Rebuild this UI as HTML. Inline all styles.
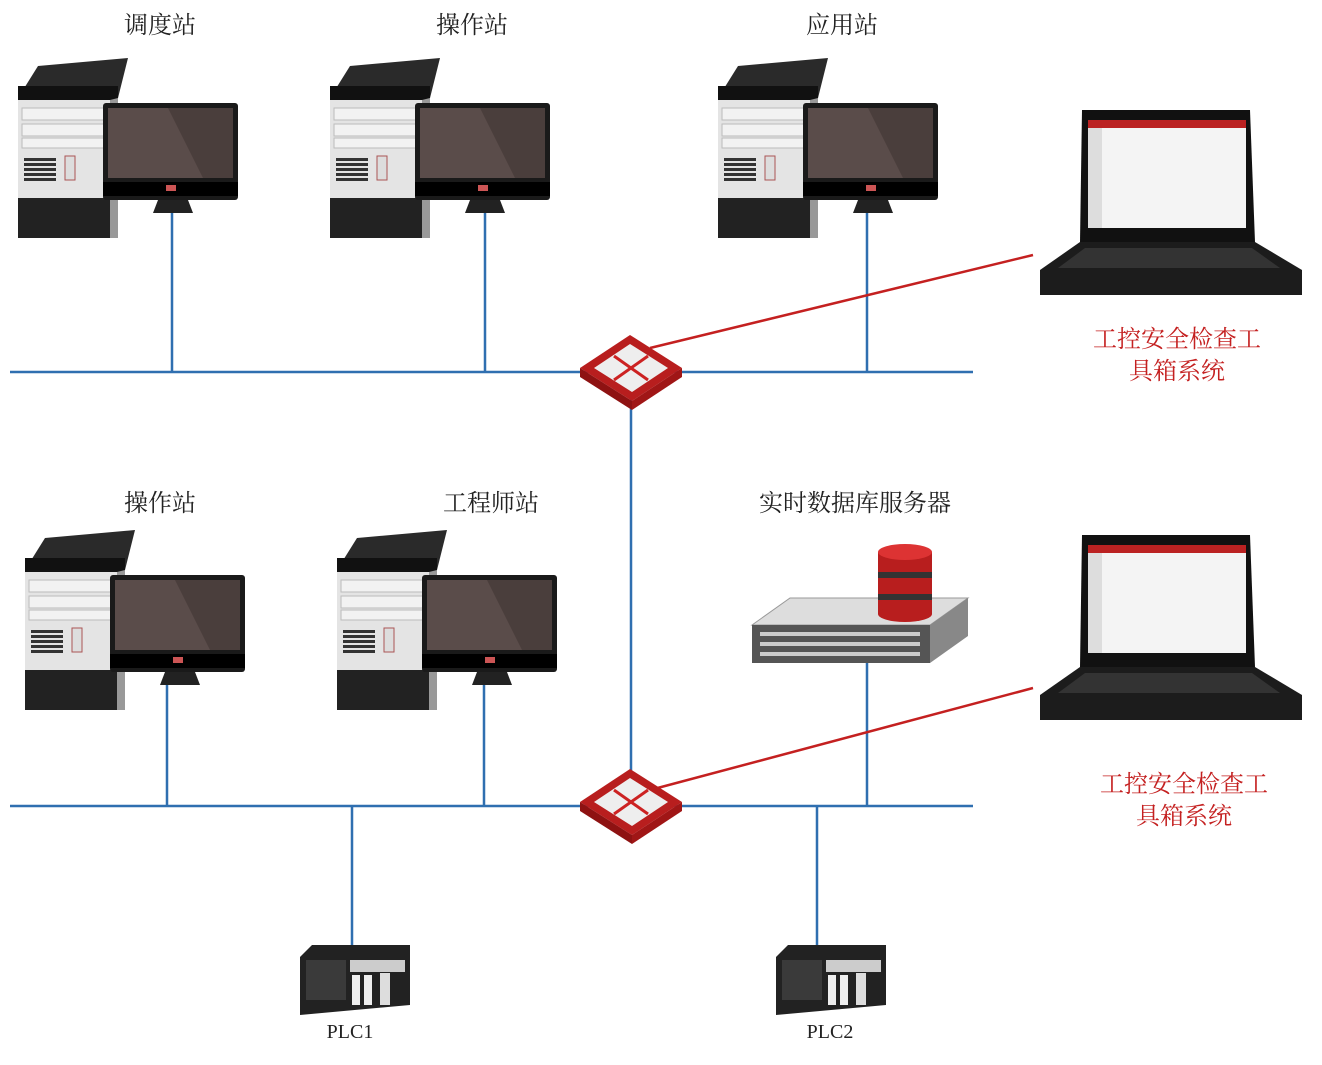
<!DOCTYPE html>
<html><head><meta charset="utf-8"><style>
body{margin:0;background:#fff;}
svg text{font-family:"Liberation Serif","Noto Serif CJK SC",serif;}
</style></head><body>
<svg width="1322" height="1060" viewBox="0 0 1322 1060" xmlns="http://www.w3.org/2000/svg">
<defs>
<g id="pc">
  <polygon points="0,40 20,8 110,0 100,40" fill="#2a2a2a"/>
  <rect x="0" y="28" width="100" height="14" fill="#111"/>
  <rect x="0" y="42" width="92" height="98" fill="#e4e4e4"/>
  <polygon points="92,42 100,40 100,180 92,180" fill="#999"/>
  <rect x="4" y="50" width="84" height="12" fill="#f2f2f2" stroke="#bbb"/>
  <rect x="4" y="66" width="84" height="12" fill="#f2f2f2" stroke="#bbb"/>
  <rect x="4" y="80" width="84" height="10" fill="#f2f2f2" stroke="#bbb"/>
  <g fill="#333"><rect x="6" y="100" width="32" height="3"/><rect x="6" y="105" width="32" height="3"/><rect x="6" y="110" width="32" height="3"/><rect x="6" y="115" width="32" height="3"/><rect x="6" y="120" width="32" height="3"/></g>
  <rect x="47" y="98" width="10" height="24" fill="#ddd" stroke="#a55"/>
  <rect x="0" y="140" width="92" height="40" fill="#222"/>
  <rect x="85" y="45" width="135" height="97" rx="3" fill="#1a1a1a"/>
  <rect x="90" y="50" width="125" height="70" fill="#4a3e3c"/>
  <polygon points="90,50 150,50 185,120 90,120" fill="#5a4c4a"/>
  <rect x="85" y="124" width="135" height="14" fill="#000"/>
  <rect x="148" y="127" width="10" height="6" fill="#c55"/>
  <polygon points="140,142 170,142 175,155 135,155" fill="#222"/>
</g>
<g id="sw">
  <polygon points="0,0 50,-33 102,0 52,33" fill="#b81e1e"/>
  <polygon points="0,0 52,33 52,42 0,9" fill="#8e1212"/>
  <polygon points="52,33 102,0 102,9 52,42" fill="#a01616"/>
  <polygon points="14,0 50,-24 88,0 52,24" fill="#eee"/>
  <g stroke="#c22" stroke-width="3"><line x1="34" y1="-12" x2="68" y2="12"/><line x1="68" y1="-12" x2="34" y2="12"/></g>
</g>
<g id="lap">
  <polygon points="42,0 210,0 215,132 40,132" fill="#111"/>
  <rect x="48" y="10" width="158" height="108" fill="#f4f4f4"/>
  <rect x="48" y="10" width="158" height="8" fill="#b22"/>
  <rect x="48" y="18" width="14" height="100" fill="#ddd"/>
  <polygon points="40,132 215,132 262,160 262,185 0,185 0,160" fill="#1c1c1c"/>
  <polygon points="45,138 212,138 240,158 18,158" fill="#333"/>
</g>
<g id="plc">
  <polygon points="0,12 12,0 110,0 110,60 0,70" fill="#222"/>
  <rect x="6" y="15" width="40" height="40" fill="#3a3a3a"/>
  <rect x="50" y="15" width="55" height="12" fill="#ccc"/>
  <rect x="52" y="30" width="8" height="30" fill="#eee"/><rect x="64" y="30" width="8" height="30" fill="#eee"/><rect x="80" y="28" width="10" height="32" fill="#ddd"/>
</g>
</defs>
<g stroke="#2f6fb0" stroke-width="2.5" fill="none">
  <line x1="10" y1="372" x2="973" y2="372"/>
  <line x1="10" y1="806" x2="973" y2="806"/>
  <line x1="172" y1="212" x2="172" y2="372"/>
  <line x1="485" y1="212" x2="485" y2="372"/>
  <line x1="867" y1="212" x2="867" y2="372"/>
  <line x1="631" y1="372" x2="631" y2="806"/>
  <line x1="167" y1="685" x2="167" y2="806"/>
  <line x1="484" y1="685" x2="484" y2="806"/>
  <line x1="867" y1="660" x2="867" y2="806"/>
  <line x1="352" y1="806" x2="352" y2="955"/>
  <line x1="817" y1="806" x2="817" y2="955"/>
</g>
<g stroke="#c42020" stroke-width="2.5">
  <line x1="650" y1="348" x2="1033" y2="255"/>
  <line x1="650" y1="790" x2="1033" y2="688"/>
</g>
<use href="#pc" x="18" y="58"/>
<use href="#pc" x="330" y="58"/>
<use href="#pc" x="718" y="58"/>
<use href="#pc" x="25" y="530"/>
<use href="#pc" x="337" y="530"/>
<use href="#sw" x="580" y="368"/>
<use href="#sw" x="580" y="802"/>
<use href="#lap" x="1040" y="110"/>
<use href="#lap" x="1040" y="535"/>
<use href="#plc" x="300" y="945"/>
<use href="#plc" x="776" y="945"/>
<!-- server -->
<polygon points="752,625 790,598 968,598 930,625" fill="#ddd" stroke="#999"/>
<rect x="752" y="625" width="178" height="38" fill="#555"/>
<polygon points="930,625 968,598 968,636 930,663" fill="#888"/>
<g fill="#ccc"><rect x="760" y="632" width="160" height="4"/><rect x="760" y="642" width="160" height="4"/><rect x="760" y="652" width="160" height="4"/></g>
<rect x="878" y="552" width="54" height="62" fill="#b81e1e"/>
<ellipse cx="905" cy="552" rx="27" ry="8" fill="#d33"/>
<ellipse cx="905" cy="614" rx="27" ry="8" fill="#b81e1e"/>
<rect x="878" y="572" width="54" height="6" fill="#333"/>
<rect x="878" y="594" width="54" height="6" fill="#333"/>
<g font-size="24" fill="#222" text-anchor="middle">
  <text x="160" y="33">调度站</text>
  <text x="472" y="33">操作站</text>
  <text x="842" y="33">应用站</text>
  <text x="160" y="511">操作站</text>
  <text x="491" y="511">工程师站</text>
  <text x="855" y="511">实时数据库服务器</text>
  <text x="350" y="1038" font-size="20">PLC1</text>
  <text x="830" y="1038" font-size="20">PLC2</text>
</g>
<g font-size="24" fill="#c42020" text-anchor="middle">
  <text x="1177" y="347">工控安全检查工</text>
  <text x="1177" y="379">具箱系统</text>
  <text x="1184" y="792">工控安全检查工</text>
  <text x="1184" y="824">具箱系统</text>
</g>
</svg>
</body></html>
